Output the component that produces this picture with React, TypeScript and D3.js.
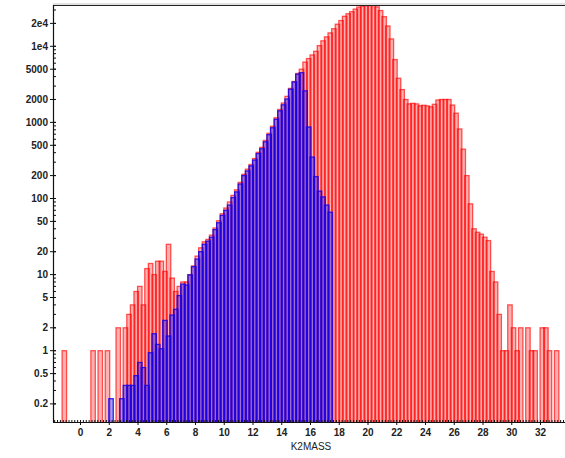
import React from "react";
import * as d3 from "d3";

// Histogram bins: uniform 0.25-wide bins starting at -1.25
const binStart = -1.25;
const binWidth = 0.25;

// Counts per bin, all objects (red)
const redCounts = [
  1, 0, 0, 0, 0, 0, 0, 0, 1, 0,
  1, 0, 1, 0, 0, 2, 0, 2, 3, 4,
  6, 7, 4, 12, 14, 10, 15, 15, 11, 25,
  9, 6, 7, 8, 8, 10, 13, 17.5, 22.5, 27,
  29, 33, 41, 51, 63, 75, 90, 110, 130, 163,
  208, 243, 280, 335, 405, 470, 580, 720, 890, 1150,
  1480, 1800, 2200, 2800, 3450, 4400, 5000, 6200, 6900, 7700,
  8600, 10200, 11800, 13300, 15000, 17000, 19500, 21800, 24800, 26800,
  28500, 30800, 32800, 33700, 34200, 34400, 34400, 33000, 29500, 24500,
  18500, 12500, 6700, 3800, 2700, 2000, 1750, 1780, 1750, 1650,
  1680, 1650, 1600, 1730, 1970, 2000, 2000, 2000, 1690, 1320,
  820, 445, 200, 85, 40, 36, 34, 31, 28, 11,
  8, 3, 1, 1, 4, 2, 1, 2, 0, 2,
  1, 1, 0, 2, 2, 1, 0, 1,
];

// Weighted counts per bin, selected subset (blue)
const blueCounts = [
  0, 0, 0, 0, 0, 0, 0, 0, 0, 0,
  0, 0, 0, 0.234, 0, 0, 0.234, 0.35, 0.35, 0.35,
  0.47, 0.7, 0.6, 0.35, 0.94, 1.67, 1.21, 1.06, 2.5, 1.56,
  2.94, 3.5, 5.3, 7.5, 7.3, 9.9, 12.7, 16, 20, 25,
  27.5, 31, 39, 48, 60, 70, 82, 103, 122, 155,
  200, 230, 268, 320, 390, 450, 555, 690, 850, 1100,
  1420, 1700, 2030, 2730, 3400, 4300, 4500, 2600, 870, 350,
  194, 125, 105, 82, 66,
];

const yTickValues = [0.2, 0.5, 1, 2, 5, 10, 20, 50, 100, 200, 500, 1000, 2000, 5000, 10000, 20000];
const yTickLabels = ["0.2", "0.5", "1", "2", "5", "10", "20", "50", "100", "200", "500", "1000", "2000", "5000", "1e4", "2e4"];
const xTickValues = [0, 2, 4, 6, 8, 10, 12, 14, 16, 18, 20, 22, 24, 26, 28, 30, 32];
const xAxisTitle = "K2MASS";

const W = 565;
const H = 458;
const left = 53;
const right = 565;
const top = 5;
const bottom = 422;

const xScale = d3.scaleLinear().domain([-1.9131, 33.7043]).range([left, right]);
const yScale = d3.scaleLog().domain([0.1156, 34900]).range([bottom, top]);

const barUnits = 0.4;
const sw = 1.3;

function bars(counts: number[], fill: string, stroke: string, fillOp: number, strokeOp: number) {
  const out: React.ReactElement[] = [];
  counts.forEach((v, i) => {
    if (!(v > 0)) return;
    const c = binStart + (i + 0.5) * binWidth;
    const x0 = xScale(c - barUnits / 2) + sw / 2;
    const x1 = xScale(c + barUnits / 2) - sw / 2;
    const y0 = yScale(v);
    out.push(
      <rect
        key={i}
        x={x0}
        y={y0}
        width={x1 - x0}
        height={bottom + 2 - y0}
        fill={fill}
        fillOpacity={fillOp}
        stroke={stroke}
        strokeOpacity={strokeOp}
        strokeWidth={sw}
      />
    );
  });
  return out;
}

export default function App() {
  const font = "'Liberation Sans', Arial, sans-serif";

  const minorY: number[] = [];
  for (let e = -1; e <= 4; e++) {
    for (let d = 1; d <= 9; d++) {
      const v = d * Math.pow(10, e);
      if (v >= 0.1156 && v <= 34900) minorY.push(v);
    }
  }
  const minorX = d3.range(-1.8, 33.7, 0.2);

  return (
    <svg
      width={W}
      height={H}
      style={{ position: "absolute", left: 0, top: 0, background: "#fff" }}
      xmlns="http://www.w3.org/2000/svg"
    >
      <defs>
        <clipPath id="plotClip">
          <rect x={left} y={top} width={right - left} height={bottom - top} />
        </clipPath>
      </defs>

      <g clipPath="url(#plotClip)">
        {bars(redCounts, "#ff0000", "#ff0000", 0.3, 0.65)}
        {bars(blueCounts, "#0000ff", "#1800e8", 0.38, 0.85)}
      </g>

      {/* frame */}
      <line x1={left} x2={right} y1={top - 1} y2={top - 1} stroke="#c4c4c4" strokeWidth={1} />
      <line x1={left} x2={right} y1={top + 0.5} y2={top + 0.5} stroke="#222" strokeWidth={1.2} />
      <line x1={left + 0.5} x2={left + 0.5} y1={top} y2={bottom} stroke="#111" strokeWidth={1.2} />
      <line x1={left} x2={right} y1={bottom + 0.5} y2={bottom + 0.5} stroke="#111" strokeWidth={1.2} />

      {/* y axis ticks */}
      {minorY.map((v, i) => (
        <line key={"my" + i} x1={left} x2={left + 3} y1={yScale(v)} y2={yScale(v)} stroke="#111" strokeWidth={1} />
      ))}
      {yTickValues.map((v, i) => (
        <g key={"yt" + i}>
          <line x1={left - 3} x2={left + 3} y1={yScale(v)} y2={yScale(v)} stroke="#111" strokeWidth={1} />
          <text
            x={left - 5}
            y={yScale(v)}
            dy="0.35em"
            textAnchor="end"
            fontFamily={font}
            fontWeight="bold"
            fontSize={10}
            fill="#222"
          >
            {yTickLabels[i]}
          </text>
        </g>
      ))}

      {/* x axis ticks */}
      {minorX.map((v, i) => (
        <line key={"mx" + i} x1={xScale(v)} x2={xScale(v)} y1={bottom} y2={bottom - 2} stroke="#111" strokeWidth={1} />
      ))}
      {xTickValues.map((v, i) => (
        <g key={"xt" + i}>
          <line x1={xScale(v)} x2={xScale(v)} y1={bottom} y2={bottom + 3} stroke="#111" strokeWidth={1} />
          <text
            x={xScale(v)}
            y={bottom + 14}
            textAnchor="middle"
            fontFamily={font}
            fontWeight="bold"
            fontSize={10}
            fill="#222"
          >
            {String(v)}
          </text>
        </g>
      ))}
      <text x={(left + right) / 2 + 2} y={450} textAnchor="middle" fontFamily={font} fontSize={10} fill="#222">
        {xAxisTitle}
      </text>
    </svg>
  );
}
